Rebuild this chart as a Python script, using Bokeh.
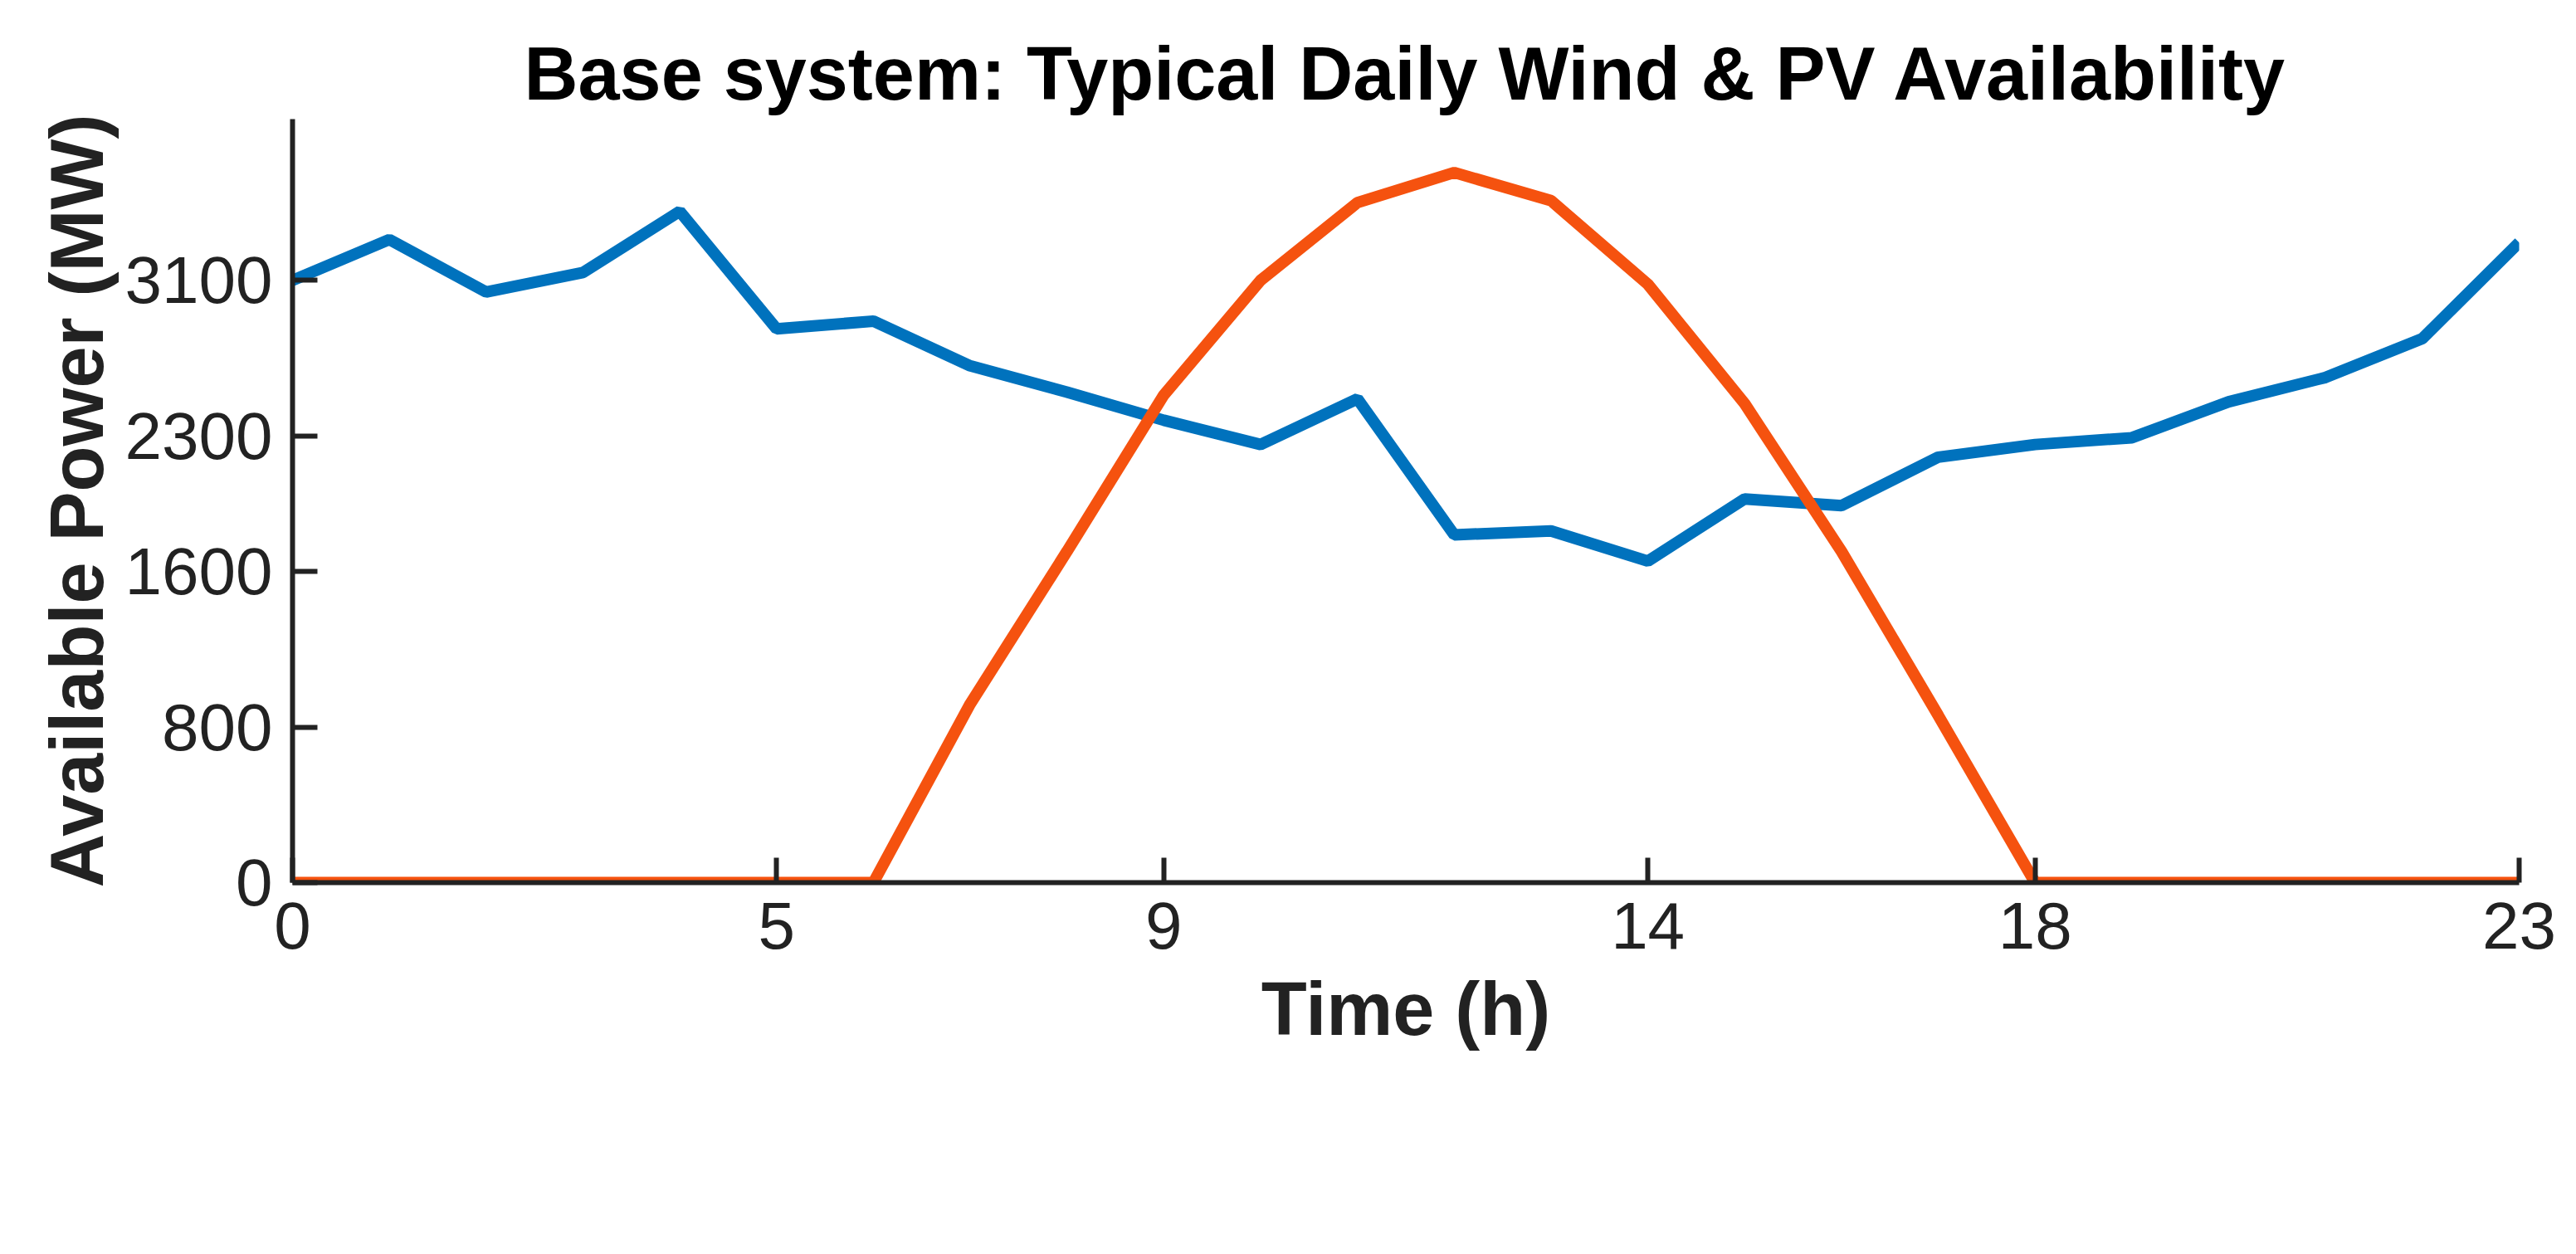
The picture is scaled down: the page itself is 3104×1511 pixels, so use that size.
from bokeh.plotting import figure
from bokeh.models import FixedTicker, Legend, LegendItem, Range1d
from bokeh.embed import file_html
from bokeh.resources import INLINE

hours = list(range(24))
wind = [3100, 3310, 3040, 3140, 3455, 2850, 2890, 2660, 2525, 2380, 2255, 2490,
        1790, 1810, 1655, 1975, 1940, 2190, 2255, 2290, 2475, 2600, 2800, 3295]
pv = [0, 0, 0, 0, 0, 0, 0, 920, 1705, 2510, 3100, 3500,
      3655, 3510, 3080, 2465, 1705, 860, 0, 0, 0, 0, 0, 0]
x_ticks = [0, 5, 9, 14, 18, 23]
y_ticks = [0, 800, 1600, 2300, 3100]

FONT = "Liberation Sans"
p = figure(frame_width=2683, frame_height=920, output_backend="svg", toolbar_location=None,
           x_range=Range1d(0, 23), y_range=Range1d(0, 3930),
           min_border_left=352, min_border_right=60, min_border_top=143, min_border_bottom=0)
p.title.text = "Base system: Typical Daily Wind & PV Availability"
p.title.align = "center"
p.title.text_font = FONT
p.title.text_font_size = "90px"
p.title.text_font_style = "bold"
p.title.text_color = "black"
p.outline_line_color = None
p.grid.visible = False
p.background_fill_color = "white"

r1 = p.line(hours, wind, line_color="#0072BD", line_width=14)
r2 = p.line(hours, pv, line_color="#F5520F", line_width=14)

for ax in (p.xaxis[0], p.yaxis[0]):
    ax.axis_line_width = 6
    ax.axis_line_color = "#222222"
    ax.major_tick_in = 30
    ax.major_tick_out = 0
    ax.major_tick_line_width = 6
    ax.major_tick_line_color = "#222222"
    ax.minor_tick_line_color = None
    ax.major_label_text_font = FONT
    ax.major_label_text_font_size = "80px"
    ax.major_label_text_color = "#222222"
    ax.axis_label_text_font = FONT
    ax.axis_label_text_font_size = "90px"
    ax.axis_label_text_font_style = "bold"
    ax.axis_label_text_color = "#222222"
p.xaxis.ticker = FixedTicker(ticks=x_ticks)
p.yaxis.ticker = FixedTicker(ticks=y_ticks)
p.xaxis.axis_label = "Time (h)"
p.yaxis.axis_label = "Available Power (MW)"
p.xaxis.major_label_standoff = 24
p.yaxis.major_label_standoff = 24
p.xaxis.axis_label_standoff = 20

legend = Legend(items=[LegendItem(label="Wind Available Power", renderers=[r1]),
                       LegendItem(label="PV Available Power", renderers=[r2])],
                orientation="horizontal", location="center",
                label_text_font=FONT, label_text_font_size="73px",
                glyph_width=110, glyph_height=40, spacing=60,
                border_line_color=None, margin=30, padding=10)
p.add_layout(legend, "below")

open("out.html", "w").write(file_html(p, INLINE))
